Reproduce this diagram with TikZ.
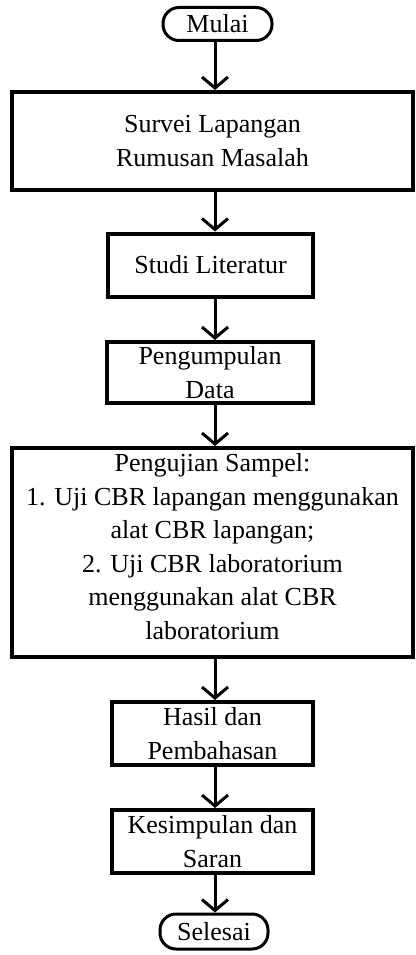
\documentclass[tikz,border=0pt]{standalone}
\usepackage{fontspec}
\setmainfont{Liberation Serif}
\usetikzlibrary{arrows.meta}
\begin{document}
\begin{tikzpicture}[x=1pt,y=-1pt,
  every node/.style={font=\fontsize{26}{33.5}\selectfont, align=center, inner sep=0pt},
  procbox/.style={draw, line width=4pt, minimum width=#1},
  term/.style={draw, line width=3pt, rounded corners=16pt},
  arr/.style={line width=3pt, -{Straight Barb[length=11pt,width=26pt,line width=3pt]}}]
\useasboundingbox (0,0) rectangle (415,955);
\coordinate (ax) at (215,0);
\node[term, minimum width=109pt, minimum height=33pt] (mulai) at (217.5,24) {Mulai};
\node[procbox=401pt, minimum height=98pt] (b1) at (212.5,141) {Survei Lapangan\\Rumusan Masalah};
\node[procbox=205pt, minimum height=63pt] (b2) at (210.5,265) {Studi Literatur};
\node[procbox=206pt, minimum height=61pt] (b3) at (210,372.5) {Pengumpulan\\Data};
\node[procbox=401pt, minimum height=209pt] (b4) at (212.5,552.5) {};
\node (t4) at (212.5,546.5) {Pengujian Sampel:\\1. Uji CBR lapangan menggunakan\\alat CBR lapangan;\\2. Uji CBR laboratorium\\menggunakan alat CBR\\laboratorium};
\node[procbox=201pt, minimum height=63pt] (b5) at (212.5,733.5) {Hasil dan\\Pembahasan};
\node[procbox=201pt, minimum height=63pt] (b6) at (212.5,841.5) {Kesimpulan dan\\Saran};
\node[term, minimum width=108pt, minimum height=35pt] (selesai) at (214,931.5) {Selesai};
\draw[arr] (mulai.south -| ax) -- (b1.north -| ax);
\draw[arr] (b1.south -| ax) -- (b2.north -| ax);
\draw[arr] (b2.south -| ax) -- (b3.north -| ax);
\draw[arr] (b3.south -| ax) -- (b4.north -| ax);
\draw[arr] (b4.south -| ax) -- (b5.north -| ax);
\draw[arr] (b5.south -| ax) -- (b6.north -| ax);
\draw[arr] (b6.south -| ax) -- (selesai.north -| ax);
\end{tikzpicture}
\end{document}
